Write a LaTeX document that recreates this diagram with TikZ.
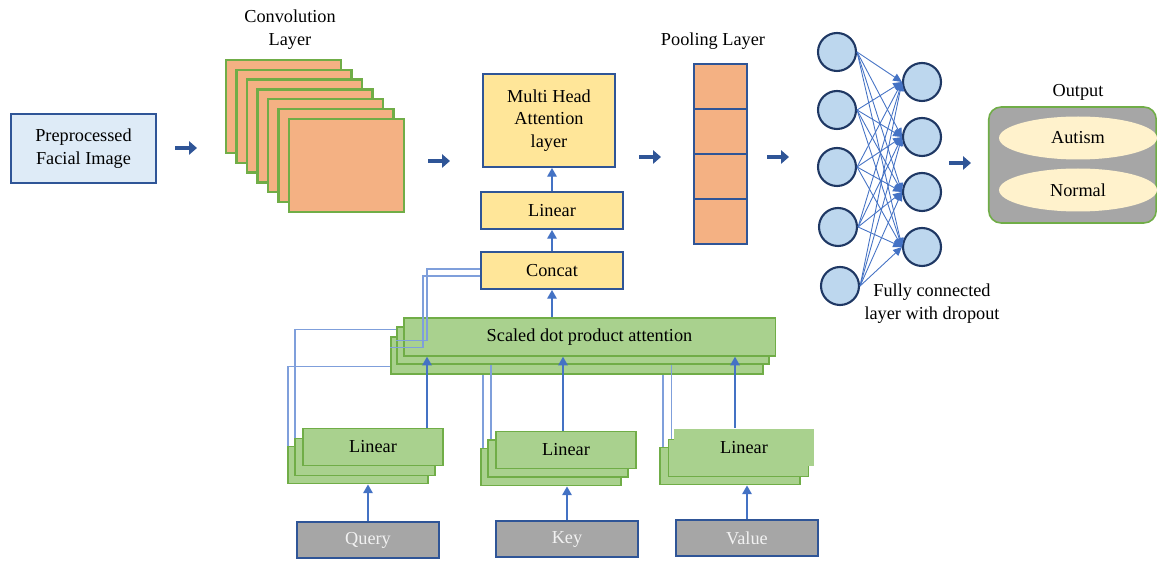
\documentclass[tikz,border=0pt]{standalone}
\usepackage{fontspec}
\setmainfont{Liberation Serif}
\usetikzlibrary{arrows.meta,calc,shapes.geometric}
\definecolor{navy}{HTML}{2F5597}
\definecolor{ablue}{HTML}{4472C4}
\definecolor{wblue}{HTML}{7F9FDB}
\definecolor{grnfill}{HTML}{A9D18E}
\definecolor{grnline}{HTML}{70AD47}
\definecolor{orng}{HTML}{F4B183}
\definecolor{yel}{HTML}{FFE699}
\definecolor{greybox}{HTML}{A6A6A6}
\definecolor{intext}{HTML}{F2F2F2}
\definecolor{lblue}{HTML}{DEEBF7}
\definecolor{nblue}{HTML}{BDD7EE}
\definecolor{nline}{HTML}{1F3864}
\definecolor{cream}{HTML}{FFF2CC}
\tikzset{
  txt/.style={font=\fontsize{10.4}{13}\selectfont, align=center, inner sep=0pt},
  boxbase/.style={txt, draw, line width=1.1pt},
  prebox/.style={boxbase, draw=navy, fill=lblue, minimum width=2.9cm, minimum height=1.38cm},
  convbox/.style={draw=grnline, fill=orng, line width=1.3pt, inner sep=0pt, minimum width=2.3cm, minimum height=1.86cm},
  yelbox/.style={boxbase, draw=navy, fill=yel, minimum width=2.84cm, minimum height=0.74cm},
  grnbox/.style={boxbase, draw=grnline, fill=grnfill, minimum width=2.8cm, minimum height=0.74cm},
  sdpabox/.style={grnbox, minimum width=7.44cm, minimum height=0.75cm},
  inbox/.style={boxbase, draw=navy, fill=greybox, text=intext, minimum width=2.84cm, minimum height=0.72cm},
  poolcell/.style={draw=navy, fill=orng, line width=1.1pt, inner sep=0pt, minimum width=1.06cm, minimum height=0.9cm},
  neuron/.style={circle, draw=nline, fill=nblue, line width=1.2pt, inner sep=0pt, minimum size=0.76cm},
  outbox/.style={draw=grnline, fill=greybox, line width=0.9pt, rounded corners=7pt, inner sep=0pt, minimum width=3.35cm, minimum height=2.32cm},
  clsnode/.style={txt, ellipse, fill=cream, minimum width=3.16cm, minimum height=0.86cm},
  bigarrow/.style={draw=navy, line width=2.2pt, -{Triangle[length=4.5pt,width=7.5pt]}},
  arr/.style={draw=ablue, line width=0.8pt, -{Triangle[length=5pt,width=5.5pt]}},
  wire/.style={draw=wblue, line width=0.7pt},
  fcedge/.style={draw=ablue, line width=0.5pt, -{Triangle[length=5pt,width=4.5pt]}}
}
\begin{document}
\begin{tikzpicture}[x=0.02cm,y=-0.02cm]
\useasboundingbox (0,0) rectangle (1157,563);
% input image
\node[prebox] (pre) at (83.5,148.5) {Preprocessed\\Facial Image};
% convolution layer
\node[txt] (convlbl) at (290,30) {Convolution\\Layer};
\foreach \i in {0,...,6}
  \node[convbox] (conv\i) at ({283.5+10.5*\i},{106.5+9.8*\i}) {};
% attention block
\node[yelbox, minimum width=2.64cm, minimum height=1.86cm] (mha) at (549,120.5) {Multi Head\\Attention\\layer};
\node[yelbox] (lin) at (552,210.5) {Linear};
\node[yelbox] (concat) at (552,270.5) {Concat};
\node[sdpabox] (sdpa1) at (577,355.5) {};
\node[sdpabox] (sdpa2) at (583,345.5) {};
\node[sdpabox] (sdpa3) at (589.5,337) {Scaled dot product attention};
% linear stacks
\node[grnbox] (qback) at (358,465) {};
\node[grnbox] (qmid) at (365,457) {};
\node[grnbox] (qfront) at (373,447) {Linear};
\node[grnbox] (kback) at (551,467) {};
\node[grnbox] (kmid) at (558,458.5) {};
\node[grnbox] (kfront) at (566,450) {Linear};
\node[grnbox] (vback) at (730,466) {};
\node[grnbox] (vmid) at (738.5,458) {};
\node[grnbox, draw=none] (vfront) at (744,447.5) {Linear};
% inputs
\node[inbox] (qin) at (368,540) {Query};
\node[inbox] (kin) at (567,539) {Key};
\node[inbox] (vin) at (747,538) {Value};
% wires
\coordinate (qw1) at ($(qback.north west)+(1,0)$);
\coordinate (qw2) at ($(qmid.north west)+(1,0)$);
\draw[wire] (qw1) |- ($(sdpa1.south west)+(0,-9)$);
\draw[wire] (qw2) |- ($(sdpa2.north west)+(0,4)$);
\draw[wire] ($(concat.west)+(0,-1.5)$) -| ($(sdpa2.north west)+(31,15)$) -- ($(sdpa2.north west)+(0,15)$);
\draw[wire] ($(concat.west)+(0,5.5)$) -| ($(sdpa1.north west)+(33,12)$) -- ($(sdpa1.north west)+(0,12)$);
\coordinate (kw1) at ($(kback.north west)+(3,0)$);
\coordinate (kw2) at ($(kmid.north west)+(4,0)$);
\coordinate (vw1) at ($(vback.north west)+(4,0)$);
\coordinate (vw2) at ($(vmid.north west)+(4,0)$);
\draw[wire] (kw1) -- (kw1 |- sdpa1.south);
\draw[wire] (kw2) -- (kw2 |- sdpa2.south);
\draw[wire] (vw1) -- (vw1 |- sdpa1.south);
\draw[wire] (vw2) -- (vw2 |- sdpa2.south);
% small arrows
\draw[arr] (qin) -- (qin |- qback.south);
\draw[arr] (kin) -- (kin |- kback.south);
\draw[arr] (vin) -- (vin |- vback.south);
\coordinate (qup) at ($(qfront.north)+(54,0)$);
\coordinate (kup) at ($(kfront.north)+(-3,0)$);
\coordinate (vup) at ($(vfront.north)+(-9,0)$);
\draw[arr] (qup) -- (qup |- sdpa3.south);
\draw[arr] (kup) -- (kup |- sdpa3.south);
\draw[arr] (vup) -- (vup |- sdpa3.south);
\draw[arr] (sdpa3.north -| concat.south) -- (concat.south);
\draw[arr] (concat) -- (lin);
\draw[arr] (lin.north) -- (lin.north |- mha.south);
% pooling layer
\node[txt] (poollbl) at (713,41) {Pooling Layer};
\foreach \i in {1,...,4}
  \node[poolcell] (pool\i) at (720.5,{41.5+45*\i}) {};
% fully connected
\foreach \x/\y [count=\i] in {837/52,837/110,837/167,838/227,840/286}
  \node[neuron] (l\i) at (\x,\y) {};
\foreach \y [count=\j] in {82,137,192,247}
  \node[neuron] (r\j) at (922,\y) {};
\foreach \i in {1,...,5}
  \foreach \j in {1,...,4}
    \draw[fcedge] (l\i.east) -- (r\j.west);
\node[txt] (fclbl) at (932,303.5) {Fully connected\\layer with dropout};
% output
\node[txt] (outlbl) at (1078,92) {Output};
\node[outbox] (out) at (1072.5,165) {};
\node[clsnode] (aut) at (1078,138) {Autism};
\node[clsnode] (nor) at (1078,190) {Normal};
% big arrows
\coordinate (a1) at (175,148);
\coordinate (a2) at (428,161);
\coordinate (a3) at (639,157);
\coordinate (a4) at (767,157);
\coordinate (a5) at (949,163);
\foreach \a in {a1,a2,a3,a4,a5}
  \draw[bigarrow] (\a) -- ++(22,0);
\end{tikzpicture}
\end{document}
